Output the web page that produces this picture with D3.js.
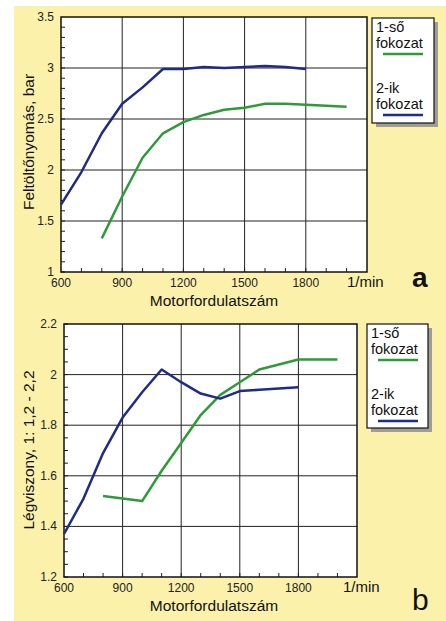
<!DOCTYPE html>
<html>
<head>
<meta charset="utf-8">
<script src="https://cdnjs.cloudflare.com/ajax/libs/d3/7.8.5/d3.min.js"></script>
<style>
  html, body { margin: 0; padding: 0; background: #fff; }
  svg { display: block; font-family: "Liberation Sans", Arial, sans-serif; }
</style>
</head>
<body>
<svg id="chart" width="446" height="621"></svg>
<script>
// motor speed, 1/min
var rpm = [600, 700, 800, 900, 1000, 1100, 1200, 1300, 1400, 1500, 1600, 1700, 1800, 1900, 2000];
var xTicks = [600, 900, 1200, 1500, 1800];

// a: boost pressure, bar
var boostFirst  = [null, null, 1.33, 1.74, 2.12, 2.36, 2.47, 2.54, 2.59, 2.61, 2.65, 2.65, 2.64, 2.63, 2.62];
var boostSecond = [1.66, 1.98, 2.36, 2.65, 2.81, 2.99, 2.99, 3.01, 3.00, 3.01, 3.02, 3.01, 2.99, null, null];
var boostTicks = [1, 1.5, 2, 2.5, 3, 3.5];

// b: air ratio
var airFirst  = [null, null, 1.52, 1.51, 1.50, 1.62, 1.73, 1.84, 1.92, 1.97, 2.02, 2.04, 2.06, 2.06, 2.06];
var airSecond = [1.37, 1.51, 1.69, 1.83, 1.93, 2.02, 1.97, 1.925, 1.905, 1.935, 1.94, 1.945, 1.95, null, null];
var airTicks = [1.2, 1.4, 1.6, 1.8, 2, 2.2];

var legendLabels = [["1-ső", "fokozat"], ["2-ik", "fokozat"]];
var green = "#2f9a3a", blue = "#1f2c86";

var svg = d3.select("#chart");
svg.append("rect").attr("x", 14).attr("y", 6).attr("width", 432).attr("height", 615).attr("fill", "#fcf1ab");

function panel(opt) {
  var x = d3.scaleLinear().domain([600, 2100]).range([opt.left, opt.right]);
  var y = d3.scaleLinear().domain(opt.yDomain).range([opt.bottom, opt.top]);
  var g = svg.append("g");

  g.append("rect").attr("x", opt.left).attr("y", opt.top)
    .attr("width", opt.right - opt.left).attr("height", opt.bottom - opt.top)
    .attr("fill", "#fff");

  // grid
  g.selectAll(".vg").data(xTicks.slice(1)).enter().append("line")
    .attr("x1", x).attr("x2", x).attr("y1", opt.top).attr("y2", opt.bottom)
    .attr("stroke", "#222").attr("stroke-width", 1);
  g.selectAll(".hg").data(opt.yTicks.slice(1, -1)).enter().append("line")
    .attr("y1", y).attr("y2", y).attr("x1", opt.left).attr("x2", opt.right)
    .attr("stroke", "#222").attr("stroke-width", 1);

  // minor ticks
  g.selectAll(".xm").data(d3.range(700, 2100, 100)).enter().append("line")
    .attr("x1", x).attr("x2", x).attr("y1", opt.bottom).attr("y2", opt.bottom - 4)
    .attr("stroke", "#222");
  g.selectAll(".ym").data(d3.range(opt.yDomain[0], opt.yDomain[1], opt.yMinor)).enter().append("line")
    .attr("y1", y).attr("y2", y).attr("x1", opt.left).attr("x2", opt.left + 4)
    .attr("stroke", "#222");

  g.append("rect").attr("x", opt.left).attr("y", opt.top)
    .attr("width", opt.right - opt.left).attr("height", opt.bottom - opt.top)
    .attr("fill", "none").attr("stroke", "#111").attr("stroke-width", 1.5);

  // tick labels
  g.selectAll(".xl").data(xTicks).enter().append("text")
    .attr("x", x).attr("y", opt.bottom + 15).attr("text-anchor", "middle")
    .attr("font-size", 12).attr("fill", "#222").text(function(d) { return d; });
  g.selectAll(".yl").data(opt.yTicks).enter().append("text")
    .attr("x", opt.left - 7).attr("y", function(d) { return y(d) + 4; }).attr("text-anchor", "end")
    .attr("font-size", 12).attr("fill", "#222").text(function(d) { return d; });

  g.append("text").attr("x", opt.unitX).attr("y", opt.bottom + 15)
    .attr("font-size", 15).attr("fill", "#111").text("1/min");
  g.append("text").attr("x", 214).attr("y", opt.bottom + 34).attr("text-anchor", "middle")
    .attr("font-size", 15.5).attr("fill", "#111").text("Motorfordulatszám");
  g.append("text").attr("transform", "translate(34," + opt.yTitleY + ") rotate(-90)")
    .attr("text-anchor", "middle").attr("font-size", 15.5).attr("fill", "#111").text(opt.yTitle);
  g.append("text").attr("x", 412).attr("y", opt.letterY)
    .attr("font-size", opt.letterSize).attr("font-weight", opt.letterWeight)
    .attr("fill", "#111").text(opt.letter);

  // series
  var line = d3.line().defined(function(d) { return d[1] != null; })
    .x(function(d) { return x(d[0]); }).y(function(d) { return y(d[1]); });
  [[opt.first, green], [opt.second, blue]].forEach(function(s) {
    g.append("path").datum(rpm.map(function(r, i) { return [r, s[0][i]]; }))
      .attr("d", line).attr("fill", "none").attr("stroke", s[1])
      .attr("stroke-width", 2.5).attr("stroke-linejoin", "round");
  });

  // legend
  var L = opt.legend;
  g.append("rect").attr("x", L.x + 4).attr("y", L.y + 4).attr("width", L.w).attr("height", L.h).attr("fill", "#a09e92");
  g.append("rect").attr("x", L.x).attr("y", L.y).attr("width", L.w).attr("height", L.h)
    .attr("fill", "#fff").attr("stroke", "#111").attr("stroke-width", 1.2);
  legendLabels.forEach(function(lab, i) {
    var by = L.y + 14 + i * 61;
    lab.forEach(function(t, j) {
      g.append("text").attr("x", L.x + 4).attr("y", by + j * 16)
        .attr("font-size", 14.5).attr("fill", "#111").text(t);
    });
    g.append("line").attr("x1", L.x + 11).attr("x2", L.x + 51)
      .attr("y1", by + 22).attr("y2", by + 22)
      .attr("stroke", i ? blue : green).attr("stroke-width", 2.5);
  });
}

panel({
  left: 61, right: 367, top: 17, bottom: 272,
  yDomain: [1, 3.5], yTicks: boostTicks, yMinor: 0.1,
  first: boostFirst, second: boostSecond,
  yTitle: "Feltöltőnyomás, bar", yTitleY: 142, unitX: 347,
  letter: "a", letterY: 287, letterSize: 28, letterWeight: "bold",
  legend: { x: 372, y: 18, w: 62, h: 105 }
});

panel({
  left: 64, right: 357, top: 324, bottom: 577,
  yDomain: [1.2, 2.2], yTicks: airTicks, yMinor: 0.05,
  first: airFirst, second: airSecond,
  yTitle: "Légviszony, 1: 1,2 - 2,2", yTitleY: 450, unitX: 343,
  letter: "b", letterY: 610, letterSize: 30, letterWeight: "normal",
  legend: { x: 367, y: 324, w: 61, h: 104 }
});
</script>
</body>
</html>
